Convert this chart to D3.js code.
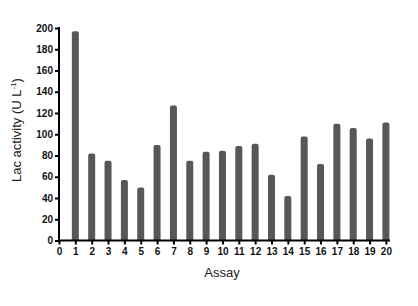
<!DOCTYPE html>
<html><head><meta charset="utf-8">
<script src="https://cdn.jsdelivr.net/npm/d3@7"></script>
<style>body{margin:0;background:#fff}svg{display:block}</style>
</head><body>
<script>
const assays = [1,2,3,4,5,6,7,8,9,10,11,12,13,14,15,16,17,18,19,20];
const lacActivity = [197,82,75,57,50,90,127,75,83.5,84.5,89,91,62,42,98,72,110,106,96,111];
const yTicks = [0,20,40,60,80,100,120,140,160,180,200];
const xTicks = d3.range(0,21);

const W=418,H=306;
const svg=d3.select("body").append("svg").attr("width",W).attr("height",H);
const x=d3.scaleLinear().domain([0,20.25]).range([59,390]);
const y=d3.scaleLinear().domain([0,200]).range([240.5,28]);

const bw=7;
svg.append("g").selectAll("path").data(assays).join("path")
  .attr("fill","#575757")
  .attr("d",(d,i)=>{
    const x0=x(d)-bw/2, x1=x(d)+bw/2, yt=y(lacActivity[i]), yb=y(0), r=2;
    return `M${x0},${yb}V${yt+r}Q${x0},${yt} ${x0+r},${yt}H${x1-r}Q${x1},${yt} ${x1},${yt+r}V${yb}Z`;
  });

const yAxis=svg.append("g").attr("transform","translate(59,0)")
  .call(d3.axisLeft(y).tickValues(yTicks).tickSize(4).tickPadding(2));
const xAxis=svg.append("g").attr("transform","translate(0,240.5)")
  .call(d3.axisBottom(x).tickValues(xTicks).tickSize(4).tickPadding(3));
[yAxis,xAxis].forEach(a=>{
  a.select(".domain").attr("stroke","#000").attr("stroke-width",2);
  a.selectAll(".tick line").attr("stroke","#000").attr("stroke-width",2);
  a.selectAll("text").attr("font-family","Liberation Sans, Arial, sans-serif")
   .attr("font-size",10).attr("font-weight","bold").attr("fill","#111");
});
xAxis.select(".domain").attr("d","M59,0H390");
yAxis.select(".domain").attr("d","M0,241.5V27");

svg.append("text").attr("x",222).attr("y",277).attr("text-anchor","middle")
  .attr("font-family","Liberation Sans, Arial, sans-serif").attr("font-size",13)
  .attr("fill","#222").text("Assay");
const yl=svg.append("text").attr("transform","translate(21,130) rotate(-90)")
  .attr("text-anchor","middle")
  .attr("font-family","Liberation Sans, Arial, sans-serif").attr("font-size",13)
  .attr("fill","#222");
yl.append("tspan").text("Lac activity (U L");
yl.append("tspan").attr("font-size",8).attr("dy",-5).text("-1");
yl.append("tspan").attr("dy",5).text(")");
</script>
</body></html>
